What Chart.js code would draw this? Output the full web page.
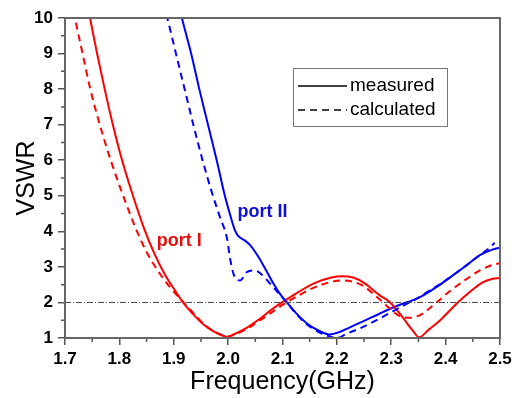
<!DOCTYPE html>
<html>
<head>
<meta charset="utf-8">
<script src="https://cdn.jsdelivr.net/npm/chart.js@4.4.1/dist/chart.umd.min.js"></script>
<style>
    body { margin: 0; background: #fff; }
    #wrap { width: 522px; height: 398px; }
</style>
</head>
<body>
<div id="wrap"><canvas id="graph" width="522" height="398"></canvas></div>
<script>
// port I, measured
var port1MeasFreq = [1.740, 1.746, 1.759, 1.773, 1.788, 1.805, 1.825, 1.845, 1.865, 1.885, 1.906, 1.917, 1.935, 1.957, 1.975, 1.990, 1.998, 2.010, 2.030, 2.059, 2.080, 2.099, 2.130, 2.160, 2.190, 2.209, 2.230, 2.250, 2.261, 2.279, 2.298, 2.320, 2.340, 2.351, 2.370, 2.390, 2.421, 2.445, 2.469, 2.485, 2.500];
var port1MeasVswr = [10.45, 10.0, 9.0, 8.0, 7.0, 6.0, 5.0, 4.1, 3.35, 2.75, 2.25, 2.0, 1.68, 1.35, 1.17, 1.07, 1.03, 1.1, 1.25, 1.55, 1.8, 2.0, 2.3, 2.55, 2.7, 2.74, 2.7, 2.55, 2.42, 2.2, 2.0, 1.6, 1.2, 1.02, 1.25, 1.5, 1.98, 2.3, 2.57, 2.66, 2.69];

// port I, calculated
var port1CalcFreq = [1.720, 1.733, 1.745, 1.764, 1.783, 1.807, 1.838, 1.862, 1.893, 1.915, 1.935, 1.957, 1.975, 1.990, 1.998, 2.010, 2.030, 2.059, 2.080, 2.100, 2.130, 2.160, 2.190, 2.210, 2.230, 2.250, 2.270, 2.290, 2.305, 2.318, 2.335, 2.350, 2.366, 2.385, 2.408, 2.435, 2.463, 2.485, 2.500];
var port1CalcVswr = [9.87, 8.95, 8.1, 7.0, 6.05, 5.0, 3.8, 3.1, 2.43, 2.05, 1.72, 1.37, 1.18, 1.07, 1.04, 1.08, 1.22, 1.5, 1.72, 1.93, 2.2, 2.43, 2.58, 2.62, 2.58, 2.45, 2.2, 1.93, 1.72, 1.6, 1.57, 1.62, 1.78, 2.02, 2.32, 2.62, 2.9, 3.05, 3.1];

// port II, measured
var port2MeasFreq = [1.912, 1.915, 1.932, 1.947, 1.963, 1.979, 1.994, 2.003, 2.012, 2.018, 2.030, 2.040, 2.055, 2.070, 2.083, 2.095, 2.108, 2.125, 2.145, 2.165, 2.187, 2.205, 2.224, 2.250, 2.279, 2.310, 2.353, 2.385, 2.414, 2.440, 2.463, 2.485, 2.500];
var port2MeasVswr = [10.2, 10.0, 9.0, 8.0, 7.0, 6.0, 5.0, 4.5, 4.05, 3.88, 3.75, 3.62, 3.3, 2.9, 2.54, 2.25, 2.0, 1.7, 1.41, 1.22, 1.1, 1.17, 1.3, 1.48, 1.69, 1.9, 2.15, 2.45, 2.77, 3.06, 3.33, 3.48, 3.54];

// port II, calculated
var port2CalcFreq = [1.886, 1.888, 1.904, 1.920, 1.936, 1.953, 1.970, 1.985, 1.998, 2.004, 2.010, 2.016, 2.022, 2.034, 2.049, 2.059, 2.080, 2.095, 2.108, 2.125, 2.145, 2.165, 2.185, 2.200, 2.218, 2.242, 2.261, 2.285, 2.316, 2.340, 2.370, 2.400, 2.430, 2.460, 2.482, 2.490];
var port2CalcVswr = [10.1, 10.0, 9.0, 8.0, 7.0, 6.0, 5.1, 4.4, 3.8, 3.2, 2.8, 2.64, 2.62, 2.85, 2.9, 2.82, 2.48, 2.22, 2.0, 1.68, 1.38, 1.18, 1.05, 1.0, 1.12, 1.27, 1.41, 1.6, 1.86, 2.05, 2.33, 2.62, 2.95, 3.3, 3.55, 3.68];

// VSWR = 2 reference
var refFreq = [1.7, 2.5];
var refVswr = [2, 2];

var xTicks = [1.7, 1.8, 1.9, 2.0, 2.1, 2.2, 2.3, 2.4, 2.5];
var yTicks = [1, 2, 3, 4, 5, 6, 7, 8, 9, 10];

var FONT = "'Liberation Sans', Arial, sans-serif";

function toPoints(xs, ys)
{
    return xs.map(function (f, i) { return {x: f, y: ys[i]}; });
}

function curve(xs, ys, color, dash)
{
    return {
        data: toPoints(xs, ys),
        borderColor: color,
        borderWidth: 2,
        borderDash: dash,
        pointRadius: 0,
        showLine: true,
        cubicInterpolationMode: 'monotone',
        fill: false
    };
}

// minor ticks, frame, legend box and port labels
var decorations = {
    id: 'decorations',
    afterDraw: function (chart) {
        var ctx = chart.ctx;
        var a = chart.chartArea;
        var x = chart.scales.x;
        var y = chart.scales.y;
        ctx.save();

        ctx.strokeStyle = '#555';
        ctx.lineWidth = 1.5;
        ctx.beginPath();
        for (var i = 0; i < xTicks.length - 1; i++) {
            var px = x.getPixelForValue((xTicks[i] + xTicks[i + 1]) / 2);
            ctx.moveTo(px, a.bottom);
            ctx.lineTo(px, a.bottom + 4);
        }
        for (var j = 0; j < yTicks.length - 1; j++) {
            var py = y.getPixelForValue((yTicks[j] + yTicks[j + 1]) / 2);
            ctx.moveTo(a.left, py);
            ctx.lineTo(a.left - 4, py);
        }
        ctx.stroke();

        ctx.strokeStyle = '#666';
        ctx.lineWidth = 2;
        ctx.strokeRect(a.left, a.top, a.right - a.left, a.bottom - a.top);

        // legend
        var lx = a.left + 228, ly = a.top + 50;
        ctx.strokeStyle = '#777';
        ctx.lineWidth = 1;
        ctx.strokeRect(lx + 0.5, ly + 0.5, 154, 58);
        ctx.strokeStyle = '#000';
        ctx.lineWidth = 1.5;
        ctx.beginPath();
        ctx.moveTo(lx + 5, ly + 18);
        ctx.lineTo(lx + 54, ly + 18);
        ctx.stroke();
        ctx.setLineDash([7, 5]);
        ctx.beginPath();
        ctx.moveTo(lx + 5, ly + 42);
        ctx.lineTo(lx + 54, ly + 42);
        ctx.stroke();
        ctx.setLineDash([]);
        ctx.fillStyle = '#000';
        ctx.font = '19px ' + FONT;
        ctx.textBaseline = 'middle';
        ctx.textAlign = 'left';
        ctx.fillText('measured', lx + 57, ly + 18);
        ctx.fillText('calculated', lx + 57, ly + 42);

        // port labels
        ctx.font = 'bold 18px ' + FONT;
        ctx.textAlign = 'center';
        ctx.textBaseline = 'alphabetic';
        ctx.fillStyle = '#e01010';
        ctx.fillText('port I', x.getPixelForValue(1.91), y.getPixelForValue(3.58));
        ctx.fillStyle = '#1010d0';
        ctx.fillText('port II', x.getPixelForValue(2.063), y.getPixelForValue(4.4));

        ctx.restore();
    }
};

var ctx = document.getElementById('graph');

var myChart = new Chart(ctx, {
    type: 'scatter',
    data: {
        datasets: [
            {
                data: toPoints(refFreq, refVswr),
                borderColor: '#444',
                borderWidth: 1,
                borderDash: [6, 2, 1, 2],
                pointRadius: 0,
                showLine: true
            },
            curve(port1CalcFreq, port1CalcVswr, 'rgb(255,0,0)', [7, 5]),
            curve(port2CalcFreq, port2CalcVswr, 'rgb(0,0,255)', [7, 5]),
            curve(port1MeasFreq, port1MeasVswr, 'rgb(255,0,0)', []),
            curve(port2MeasFreq, port2MeasVswr, 'rgb(0,0,255)', [])
        ]
    },
    options: {
        responsive: false,
        animation: false,
        events: [],
        layout: {padding: {top: 18, right: 22, left: 0, bottom: 0}},
        plugins: {
            legend: {display: false},
            tooltip: {enabled: false}
        },
        scales: {
            x: {
                type: 'linear',
                min: 1.7,
                max: 2.5,
                afterBuildTicks: function (scale) {
                    scale.ticks = xTicks.map(function (v) { return {value: v}; });
                },
                afterFit: function (scale) { scale.height = 60; },
                ticks: {
                    autoSkip: false,
                    maxRotation: 0,
                    padding: 4,
                    color: '#000',
                    font: {family: FONT, size: 17, weight: 'bold'},
                    callback: function (v) { return v.toFixed(1); }
                },
                grid: {drawOnChartArea: false, tickLength: 7, color: '#555', lineWidth: 1.5},
                border: {color: '#666', width: 2},
                title: {
                    display: true,
                    text: 'Frequency(GHz)',
                    color: '#000',
                    font: {family: FONT, size: 25},
                    padding: {top: 0, bottom: 1}
                }
            },
            y: {
                min: 1,
                max: 10,
                afterBuildTicks: function (scale) {
                    scale.ticks = yTicks.map(function (v) { return {value: v}; });
                },
                afterFit: function (scale) { scale.width = 65; },
                ticks: {
                    autoSkip: false,
                    padding: 5,
                    color: '#000',
                    font: {family: FONT, size: 17, weight: 'bold'}
                },
                grid: {drawOnChartArea: false, tickLength: 7, color: '#555', lineWidth: 1.5},
                border: {color: '#666', width: 2},
                title: {
                    display: true,
                    text: 'VSWR',
                    color: '#000',
                    font: {family: FONT, size: 25},
                    padding: {top: 12, bottom: 0}
                }
            }
        }
    },
    plugins: [decorations]
});
</script>
</body>
</html>
